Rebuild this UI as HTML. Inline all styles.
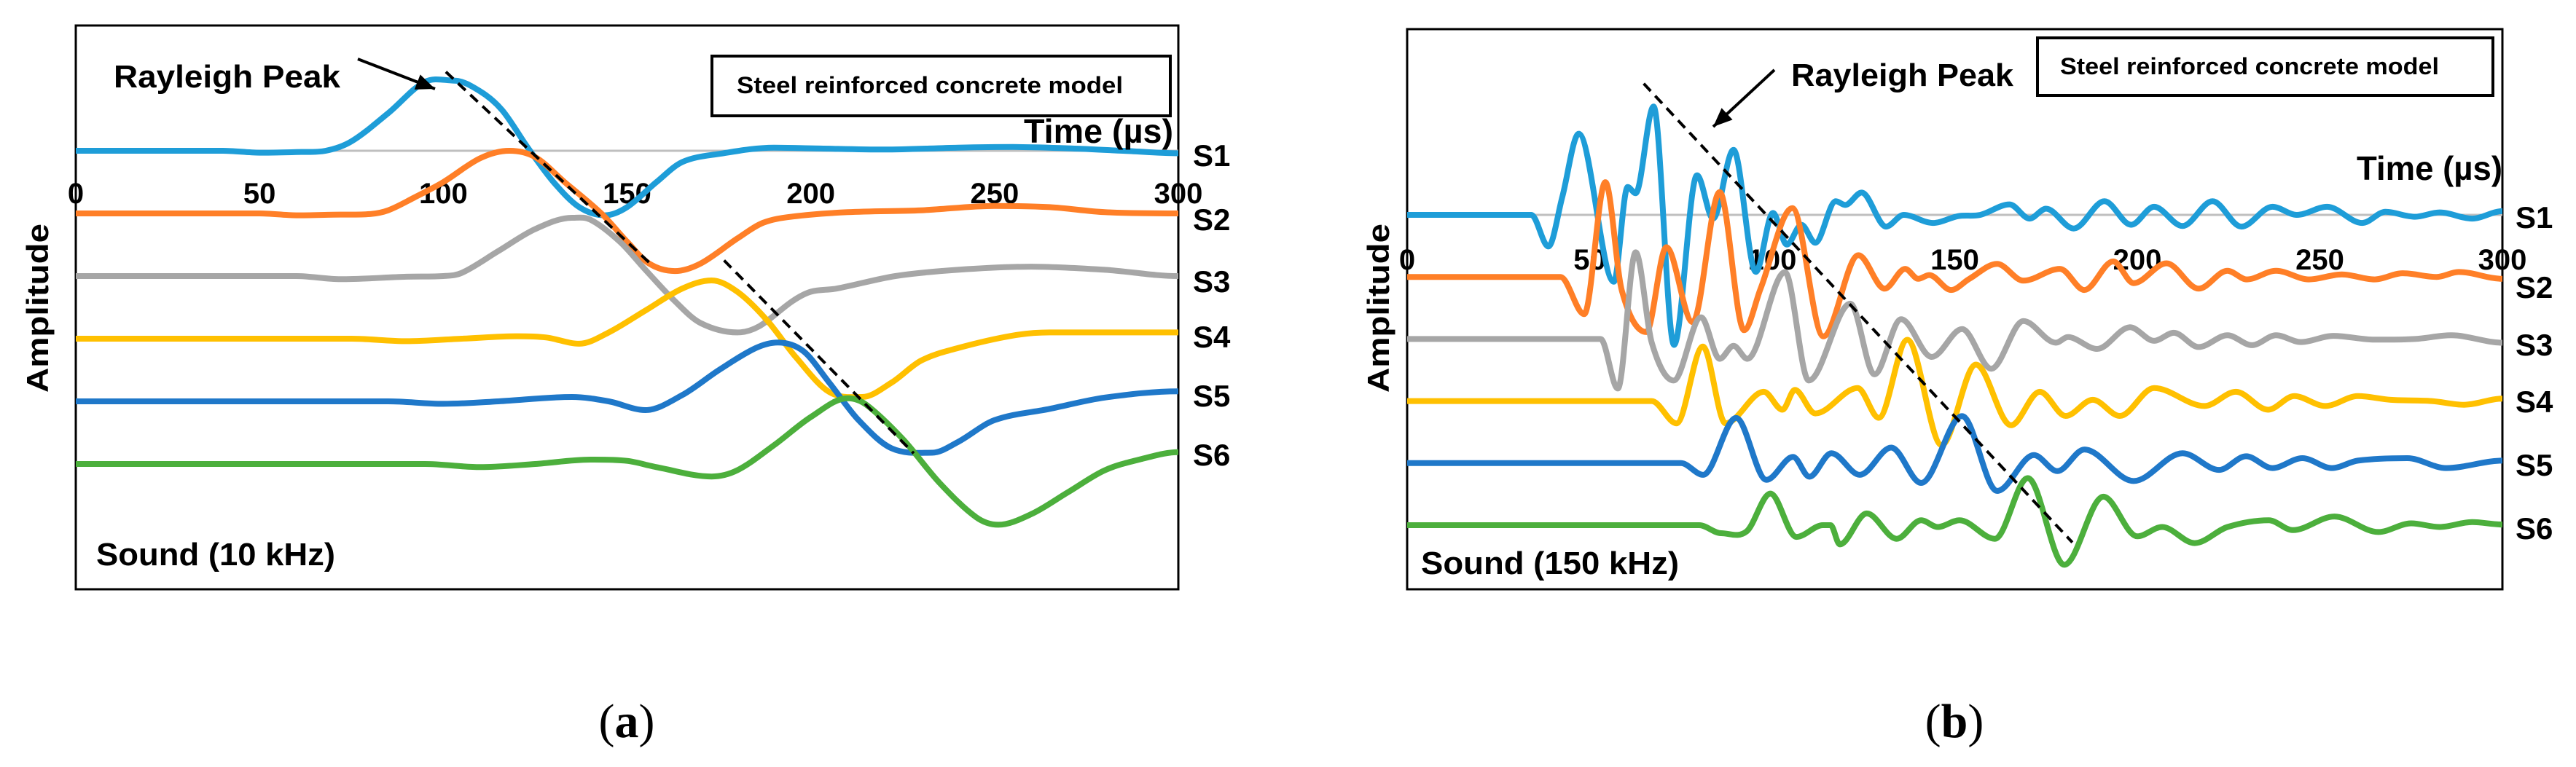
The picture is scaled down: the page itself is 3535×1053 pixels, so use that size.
<!DOCTYPE html>
<html><head><meta charset="utf-8"><style>
html,body{margin:0;padding:0;background:#fff;}
svg{display:block;}
text{font-family:"Liberation Sans",sans-serif;font-weight:bold;fill:#000;}
</style></head><body>
<svg id="fig" width="3535" height="1053" viewBox="0 0 3535 1053" xmlns="http://www.w3.org/2000/svg"></svg>
<script>
// ---- Panel (a) data: time (µs) and normalized amplitude (trace spacing = 1)
const aTicks = [0,50,100,150,200,250,300];
const aNames = ["S1","S2","S3","S4","S5","S6"];
const aS1t = [0,40,50,60,68,75,85,95,103,110,116,123,130,137,144,150,158,165,175,190,200,220,240,255,270,285,300];
const aS1v = [0,0,-0.03,-0.02,0,0.15,0.6,1.1,1.12,0.95,0.65,0.05,-0.5,-0.9,-1.03,-0.9,-0.5,-0.18,-0.05,0.05,0.04,0.02,0.05,0.06,0.04,0,-0.04];
const aS2t = [0,50,60,70,80,85,92,100,110,118,125,133,143,150,156,163,170,180,187,195,210,230,250,265,280,300];
const aS2v = [0,0,-0.03,-0.02,-0.01,0.05,0.25,0.5,0.88,1.0,0.9,0.5,0,-0.45,-0.8,-0.92,-0.8,-0.4,-0.15,-0.05,0.02,0.05,0.12,0.1,0.02,0];
const aS3t = [0,50,60,72,90,100,105,115,125,135,140,148,155,163,170,180,186,195,200,207,223,240,260,280,300];
const aS3v = [0,0,0,-0.05,-0.01,0,0.05,0.4,0.75,0.93,0.9,0.55,0.1,-0.4,-0.75,-0.9,-0.8,-0.4,-0.25,-0.2,0,0.1,0.15,0.1,0];
const aS4t = [0,75,90,105,120,128,137,145,155,165,173,180,188,196,205,214,222,230,240,255,265,280,300];
const aS4v = [0,0,-0.04,0,0.04,0.02,-0.08,0.1,0.45,0.8,0.93,0.75,0.3,-0.3,-0.85,-0.93,-0.7,-0.35,-0.15,0.05,0.1,0.1,0.1];
const aS5t = [0,85,100,115,135,145,155,165,175,185,191,198,205,213,222,233,240,250,265,280,300];
const aS5v = [0,0,-0.04,0,0.07,0,-0.14,0.1,0.5,0.85,0.94,0.8,0.3,-0.3,-0.75,-0.82,-0.65,-0.3,-0.12,0.06,0.16];
const aS6t = [0,95,110,125,140,150,158,173,180,190,200,210,215,225,235,245,251,260,270,280,290,300];
const aS6v = [0,0,-0.05,0,0.07,0.05,-0.05,-0.2,-0.1,0.3,0.75,1.05,0.95,0.4,-0.3,-0.85,-0.97,-0.8,-0.45,-0.1,0.08,0.19];
const aDashT = [100.7,156.5,176.4,228];
const aDashV = [1.26,-1.81,-1.75,-4.83];

// ---- Panel (b) data
const bTicks = [0,50,100,150,200,250,300];
const bNames = ["S1","S2","S3","S4","S5","S6"];
const bS1t = [0,34,38.7,42.5,47,56.6,60.4,62.6,67.5,73.1,79.4,83.8,89.4,95.5,100.2,104,108,111.8,117.4,120,124.5,131.2,136,144,151,157,165,170.5,175,182.6,191,198.3,204.6,212.4,220.6,228.5,237,243.7,252,261.6,268,276,282.8,291.7,300];
const bS1v = [0,0,-0.51,0.29,1.31,-1.08,0.45,0.35,1.75,-2.1,0.64,-0.06,1.05,-0.92,0.03,-0.48,-0.16,-0.45,0.22,0.16,0.36,-0.19,0,-0.13,-0.02,0,0.17,-0.06,0.1,-0.22,0.22,-0.16,0.13,-0.18,0.22,-0.19,0.13,0,0.13,-0.13,0.05,-0.03,0.04,-0.06,0.06];
const bS2t = [0,42,48.5,54.3,58.8,65.5,71,78.2,85.6,92.3,96.8,105.5,114,123.6,130.8,136.4,140,143,149,154,161.6,168.8,178.8,185.5,193.4,199,208,216.8,224.7,230,238,247,256,265,272.7,282,288,300];
const bS2v = [0,0,-0.6,1.53,-0.22,-0.89,0.48,-0.73,1.37,-0.86,-0.19,1.11,-0.96,0.35,-0.19,0.13,-0.03,0.03,-0.21,-0.03,0.21,-0.06,0.13,-0.21,0.25,-0.1,0.22,-0.19,0.1,-0.04,0.1,-0.04,0.04,-0.04,0.06,0,0.08,-0.03];
const bS3t = [0,53,57.7,62.6,67,73,80.5,85.6,89.4,93.2,103.5,110,121.4,128,135.3,143.7,152,160,168.8,177.7,181,189,198,204.6,210,216.8,224.7,231.4,238,244.8,253.7,265,276,286,300];
const bS3v = [0,0,-0.8,1.4,-0.06,-0.67,0.35,-0.32,-0.11,-0.32,1.08,-0.67,0.57,-0.57,0.32,-0.29,0.16,-0.48,0.29,-0.06,0.03,-0.16,0.19,-0.03,0.1,-0.13,0.06,-0.1,0.06,-0.05,0.05,-0.01,0,0.06,-0.06];
const bS4t = [0,67,73.8,81,87.2,97.7,102.8,106.2,111.8,123.4,129.2,137,146.4,155.8,165.4,173.3,180.4,187.8,195.2,204.6,218.4,227,235.8,243,251.5,260.4,269.4,280.6,289.5,300];
const bS4v = [0,0,-0.36,0.88,-0.36,0.15,-0.14,0.18,-0.2,0.21,-0.27,0.99,-0.71,0.59,-0.39,0.15,-0.24,0.02,-0.24,0.21,-0.08,0.15,-0.14,0.08,-0.08,0.08,0.02,0,-0.06,0.04];
const bS5t = [0,75,81.1,90.1,98.4,105.7,110.2,116.2,124,132.6,140.8,152,161.6,171.7,178.1,185.5,199,212.4,222.4,229.8,237,245.2,253.3,260.4,274,284.6,300];
const bS5v = [0,0,-0.19,0.73,-0.27,0.1,-0.22,0.16,-0.19,0.25,-0.32,0.76,-0.45,0.13,-0.13,0.22,-0.29,0.16,-0.11,0.11,-0.08,0.08,-0.08,0.04,0.08,-0.08,0.04];
const bS6t = [0,80,86,93,99.5,106.6,113.9,116,118.5,125.9,134.1,140.8,145.3,151.3,161,170,180,190.7,200,206.8,215.7,224.7,236,242.6,254,266,275,282.8,291.7,300];
const bS6v = [0,0,-0.13,-0.1,0.51,-0.19,0,0,-0.31,0.19,-0.22,0.08,-0.03,0.08,-0.22,0.76,-0.64,0.46,-0.18,-0.03,-0.29,-0.03,0.08,-0.08,0.14,-0.11,0.03,-0.03,0.05,0.01];
const bDashT = [64.8,182.2];
const bDashV = [2.12,-5.29];

const colors = ["#1E9DD8","#FF7F27","#A6A6A6","#FFC000","#1F78C9","#4CAF3C"];
const NS = "http://www.w3.org/2000/svg";
const svg = document.getElementById("fig");

function mk(tag, attrs, parent){
  const e = document.createElementNS(NS, tag);
  for (const k in attrs) e.setAttribute(k, attrs[k]);
  (parent||svg).appendChild(e);
  return e;
}
// cubic Hermite spline in x (no backward hooks)
function smoothPath(pts){
  const n = pts.length;
  const m = pts.map((p, i) => {
    if (i === 0 || i === n-1) return 0;
    const a = pts[i-1], b = pts[i+1];
    const s1 = (p[1]-a[1])/(p[0]-a[0]), s2 = (b[1]-p[1])/(b[0]-p[0]);
    if (s1*s2 <= 0) return 0;
    return (b[1]-a[1])/(b[0]-a[0]);
  });
  let d = "M" + pts[0][0].toFixed(1) + "," + pts[0][1].toFixed(1);
  for (let i=0;i<n-1;i++){
    const p1 = pts[i], p2 = pts[i+1], h = (p2[0]-p1[0])/3;
    d += " C" + (p1[0]+h).toFixed(1)+","+(p1[1]+m[i]*h).toFixed(1)+" "+(p2[0]-h).toFixed(1)+","+(p2[1]-m[i+1]*h).toFixed(1)+" "+p2[0].toFixed(1)+","+p2[1].toFixed(1);
  }
  return d;
}

function drawPanel(P){
  const g = mk("g", {});
  
  
  const xs = t => P.x0 + (t/300)*(P.x1-P.x0);
  const ys = (i, v) => P.base0 + i*P.gap - v*P.unit;
  const fr = mk("rect", {x:P.bx0, y:P.by0, width:P.bx1-P.bx0, height:P.by1-P.by0, fill:"none", stroke:"#000", "stroke-width":3}, g);
  
  
  const zl = mk("line", {x1:xs(0), x2:xs(300), y1:ys(0,0), y2:ys(0,0), stroke:"#BFBFBF", "stroke-width":3}, g);
  
  
  P.ticks.forEach(t => {
    const tx = mk("text", {x:xs(t), y:P.tickY, "text-anchor":"middle", "font-size":40}, g);
    tx.textContent = t;
    
    
  });
  P.series.forEach((s, i) => {
    const pts = s.t.map((t, k) => [xs(t), ys(i, s.v[k])]);
    const p = mk("path", {d:smoothPath(pts), fill:"none", stroke:colors[i], "stroke-width":8, "stroke-linejoin":"round"}, g);
    
    
    const lb = mk("text", {x:P.labelX, y:P.labelY[i], "font-size":42}, g);
    lb.textContent = P.names[i];
    
    
  });
  for (let k=0;k<P.dashT.length;k+=2){
    const dl = mk("line", {x1:xs(P.dashT[k]), y1:ys(0,P.dashV[k]), x2:xs(P.dashT[k+1]), y2:ys(0,P.dashV[k+1]), stroke:"#000", "stroke-width":4, "stroke-dasharray":"14,9"}, g);
    
    
  }
  const ax = P.arrow;
  const ar = mk("line", {x1:ax[0], y1:ax[1], x2:ax[2], y2:ax[3], stroke:"#000", "stroke-width":4}, g);
  
  
  const ang = Math.atan2(ax[3]-ax[1], ax[2]-ax[0]);
  const L = 26, W = 11;
  const hx = ax[2], hy = ax[3];
  const bx = hx - L*Math.cos(ang), by = hy - L*Math.sin(ang);
  const ah = mk("polygon", {points: hx+","+hy+" "+(bx - W*Math.sin(ang))+","+(by + W*Math.cos(ang))+" "+(bx + W*Math.sin(ang))+","+(by - W*Math.cos(ang)), fill:"#000"}, g);
  
  
  P.texts.forEach(T => {
    const a = {x:T.x, y:T.y, "font-size":T.fs};
    if (T.len) { a.textLength = T.len; a.lengthAdjust = "spacingAndGlyphs"; }
    if (T.rot) { a.transform = "rotate(-90 " + T.x + " " + T.y + ")"; a["text-anchor"] = "middle"; }
    const te = mk("text", a, g);
    te.textContent = T.s;
    
    
  });
  const lb = P.legend;
  const lr = mk("rect", {x:lb[0], y:lb[1], width:lb[2]-lb[0], height:lb[3]-lb[1], fill:"#fff", stroke:"#000", "stroke-width":4}, g);
  
  
  const lt = mk("text", {x:lb[4], y:lb[5], "font-size":32, textLength:lb[6], lengthAdjust:"spacingAndGlyphs"}, g);
  lt.textContent = "Steel reinforced concrete model";
  
  
}

drawPanel({
  id:"panel-a", x0:104, x1:1617, base0:207, gap:86, unit:86,
  bx0:104, by0:35, bx1:1617, by1:809, tickY:279, ticks:aTicks, names:aNames,
  series:[{t:aS1t,v:aS1v},{t:aS2t,v:aS2v},{t:aS3t,v:aS3v},{t:aS4t,v:aS4v},{t:aS5t,v:aS5v},{t:aS6t,v:aS6v}],
  labelX:1637, labelY:[228,316,401,477,558,639],
  dashT:aDashT, dashV:aDashV,
  arrow:[491,81,597,122],
  legend:[977,77,1606,159,1011,128,530],
  texts:[
    {s:"Rayleigh Peak", x:156, y:120, fs:44, len:311, name:"annotation-rayleigh-peak"},
    {s:"Time (µs)", x:1405, y:196, fs:46, len:205, name:"x-axis-title"},
    {s:"Sound (10 kHz)", x:132, y:776, fs:44, len:328, name:"frequency-label"},
    {s:"Amplitude", x:66, y:423, fs:42, len:232, rot:true, name:"y-axis-title"}
  ]
});
drawPanel({
  id:"panel-b", x0:1931, x1:3434, base0:295, gap:85.2, unit:85,
  bx0:1931, by0:40, bx1:3434, by1:809, tickY:370, ticks:bTicks, names:bNames,
  series:[{t:bS1t,v:bS1v},{t:bS2t,v:bS2v},{t:bS3t,v:bS3v},{t:bS4t,v:bS4v},{t:bS5t,v:bS5v},{t:bS6t,v:bS6v}],
  labelX:3452, labelY:[313,409,488,566,653,740],
  dashT:bDashT, dashV:bDashV,
  arrow:[2435,96,2351,174],
  legend:[2796,52,3421,131,2827,102,520],
  texts:[
    {s:"Rayleigh Peak", x:2458, y:118, fs:44, len:305, name:"annotation-rayleigh-peak"},
    {s:"Time (µs)", x:3234, y:247, fs:46, len:200, name:"x-axis-title"},
    {s:"Sound (150 kHz)", x:1950, y:788, fs:44, len:354, name:"frequency-label"},
    {s:"Amplitude", x:1906, y:423, fs:42, len:232, rot:true, name:"y-axis-title"}
  ]
});

[["(a)",860],["(b)",2682]].forEach(c => {
  const t = mk("text", {x:c[1], y:1012, "text-anchor":"middle", "font-size":66, style:"font-family:'Liberation Serif',serif;font-weight:normal"});
  const l = document.createElementNS(NS,"tspan"); l.textContent="("; t.appendChild(l);
  const m = document.createElementNS(NS,"tspan"); m.textContent=c[0][1]; m.setAttribute("font-weight","bold"); t.appendChild(m);
  const r = document.createElementNS(NS,"tspan"); r.textContent=")"; t.appendChild(r);
  
  
});
</script>
</body></html>
